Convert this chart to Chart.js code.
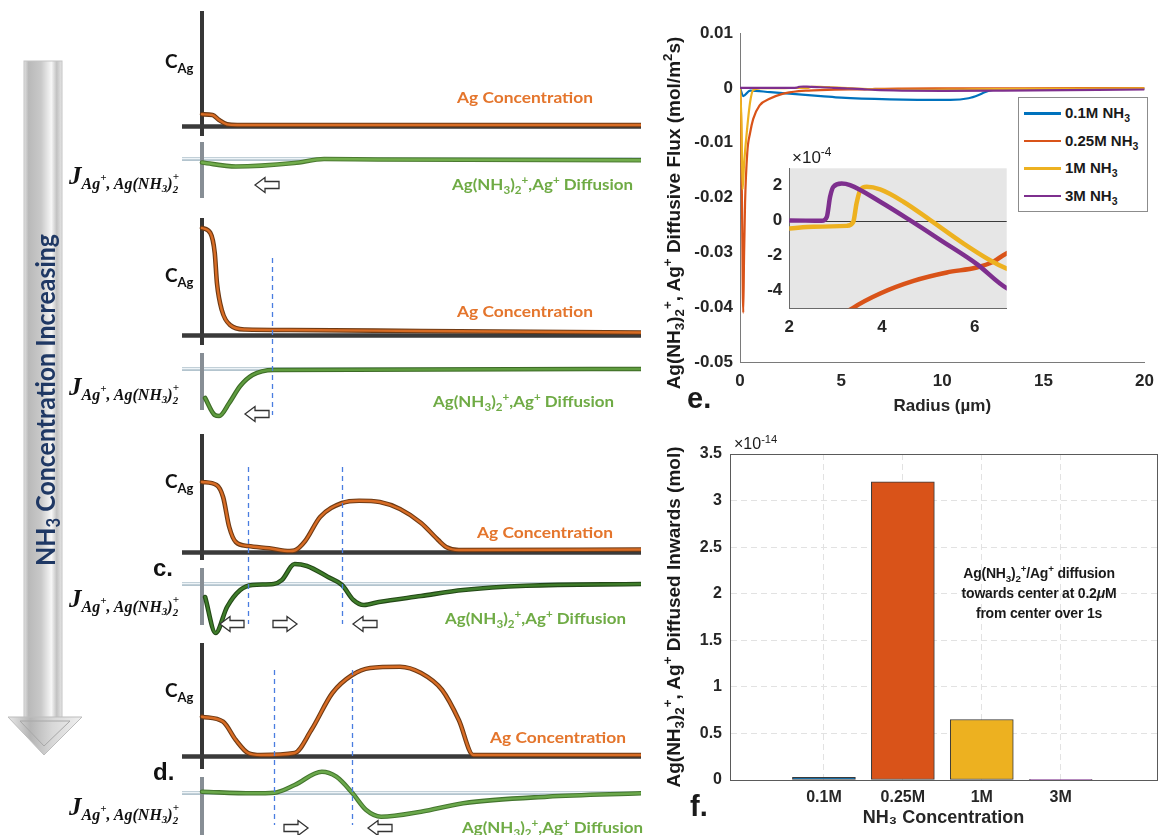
<!DOCTYPE html>
<html>
<head>
<meta charset="utf-8">
<title>Ag diffusion vs NH3</title>
<script src="https://cdn.jsdelivr.net/npm/chart.js"></script>
<style>
body{margin:0;background:#fff;}
#wrap{position:relative;width:1163px;height:835px;overflow:hidden;font-family:"Liberation Sans",Arial,sans-serif;color:#1a1a1a;}
canvas{position:absolute;}
#over{position:absolute;left:0;top:0;}
.lbl{position:absolute;white-space:nowrap;font-weight:bold;line-height:1;}
.lbl sub,.lbl sup{font-size:70%;line-height:0;}
.ytitle{transform:translate(-50%,-50%) rotate(-90deg);font-size:19px;}
</style>
</head>
<body>
<div id="wrap">
<canvas id="pa" width="459" height="200" style="left:182px;top:5px"></canvas>
<canvas id="pb" width="459" height="210" style="left:182px;top:212px"></canvas>
<canvas id="pc" width="459" height="212" style="left:182px;top:428px"></canvas>
<canvas id="pd" width="459" height="195" style="left:182px;top:640px"></canvas>

<canvas id="chartE" width="503" height="420" style="left:660px;top:0px"></canvas>
<canvas id="chartInset" width="270" height="195" style="left:745px;top:150px"></canvas>
<canvas id="chartF" width="503" height="405" style="left:660px;top:430px"></canvas>

<div class="lbl ytitle" style="left:673px;top:213px">Ag(NH<sub>3</sub>)<sub>2</sub><sup>+</sup>, Ag<sup>+</sup> Diffusive Flux (mol/m<sup>2</sup>s)</div>
<div class="lbl ytitle" style="left:673px;top:617px">Ag(NH<sub>3</sub>)<sub>2</sub><sup>+</sup>, Ag<sup>+</sup> Diffused Inwards (mol)</div>
<div class="lbl" style="left:792px;top:149px;font-size:17px;font-weight:normal">×10<sup>-4</sup></div>
<div class="lbl" style="left:734px;top:436px;font-size:16px;font-weight:normal">×10<sup>-14</sup></div>
<div class="lbl" style="left:1039px;top:563px;transform:translateX(-50%);text-align:center;font-size:14px;line-height:20px;letter-spacing:-0.2px">Ag(NH<sub>3</sub>)<sub>2</sub><sup>+</sup>/Ag<sup>+</sup> diffusion<br>towards center at 0.2<i>μ</i>M<br>from center over 1s</div>
<div id="legE" style="position:absolute;left:1018px;top:97px;width:130px;height:115px;border:1px solid #8c8c8c;background:#fff;box-sizing:border-box"></div>
<div class="lbl" style="left:687px;top:384px;font-size:29px">e.</div>
<div class="lbl" style="left:690px;top:792px;font-size:29px">f.</div>

<svg id="over" width="1163" height="835" xmlns="http://www.w3.org/2000/svg">
<defs>
<linearGradient id="shaft" x1="0" x2="1" y1="0" y2="0">
<stop offset="0" stop-color="#e2e2e2"/><stop offset="0.12" stop-color="#b9b9b9"/><stop offset="0.45" stop-color="#c9c9c9"/>
<stop offset="0.72" stop-color="#f7f7f7"/><stop offset="0.86" stop-color="#c2c2c2"/><stop offset="1" stop-color="#e6e6e6"/>
</linearGradient>
<linearGradient id="head" x1="0" x2="1" y1="0" y2="0">
<stop offset="0" stop-color="#e8e8e8"/><stop offset="0.3" stop-color="#b5b5b5"/><stop offset="0.6" stop-color="#d8d8d8"/><stop offset="1" stop-color="#f0f0f0"/>
</linearGradient>
</defs>
<rect x="24" y="61" width="38" height="660" fill="url(#shaft)" stroke="#c4c4c4" stroke-width="1"/>
<polygon points="8,717 82,717 44,755" fill="url(#head)" stroke="#bdbdbd" stroke-width="1"/>
<polygon points="20,721 70,721 44,746" fill="none" stroke="#a8a8a8" stroke-width="1"/>
<text transform="translate(55,400) rotate(-90)" text-anchor="middle" font-family="Lato" font-weight="bold" font-size="27" fill="#1f3864" textLength="332" lengthAdjust="spacingAndGlyphs">NH<tspan font-size="18" dy="5">3</tspan><tspan dy="-5"> Concentration Increasing</tspan></text>
<g id="leftText"></g>
</svg>
</div>

<script>
// ---- left schematic panels: radius (0 = centre, 100 = right edge), values in arbitrary units ----
const concA = [[0,1.07],[2.4,1.0],[3.9,0.5],[5.7,0.07],[8,0],[100,0]];
const fluxA = [[0,-0.35],[7.7,-0.75],[21,-0.4],[27.8,0],[40,-0.05],[100,-0.12]];
const concB = [[0,10.6],[1.9,10.1],[2.9,8.1],[3.4,5.1],[4.5,2.4],[6.4,0.9],[9.8,0.45],[20,0.4],[50,0.3],[100,0.15]];
const fluxB = [[0.7,-2.9],[2.9,-4.6],[3.9,-4.7],[6.2,-3.4],[8.7,-1.7],[11.5,-0.6],[16.3,-0.1],[100,0]];
const concC = [[0,6.9],[3.3,6.6],[4.8,5.4],[6.2,2.4],[7.7,0.9],[10.5,0.5],[15.3,0.27],[20,0],[21.1,0.05],[23.5,1.0],[26.9,3.4],[31.9,4.8],[35.8,5.03],[40.5,4.9],[45.1,4.2],[49.9,2.8],[53.8,1.1],[55.6,0.4],[58.5,0.1],[100,0.15]];
const fluxC = [[0.7,-1.3],[3.1,-4.9],[5.7,-2.3],[8.7,-0.6],[11.5,-0.1],[16.3,0],[18.2,0.4],[21.1,2.0],[23.9,1.8],[28.7,0.7],[31.9,-0.1],[34.5,-1.6],[36.9,-2.1],[40.3,-1.8],[49.9,-1.2],[59.5,-0.6],[73.8,-0.17],[100,0]];
const concD = [[0,3.83],[4.8,3.33],[7.7,1.5],[10.5,0.2],[13.4,0],[21.1,0.2],[24.9,2.5],[29.7,6.2],[34.2,8.0],[38.3,8.7],[45.1,8.83],[49.9,8.2],[54.7,6.5],[58.5,3.5],[61.8,0],[100,0]];
const fluxD = [[0,0.13],[11.5,-0.03],[16.5,0.03],[21.1,0.8],[27.3,2.13],[30.6,1.63],[34.2,0.03],[37.4,-1.7],[40.8,-2.37],[49.9,-1.87],[59.5,-1.03],[78.6,-0.37],[100,-0.03]];
const dashA = [], dashB = [16], dashC = [10.5, 31.9], dashD = [16.5, 34.2];

// ---- panel e: radius (um) vs diffusive flux (mol/m2s) ----
const flux01M = [[0,0],[0.16,-0.0015],[0.5,-0.0005],[1.5,-0.0008],[2.6,-0.0011],[4,-0.0015],[5,-0.0018],[7.4,-0.0021],[10.4,-0.0022],[11.3,-0.0019],[11.8,-0.0013],[12.1,-0.0008],[12.5,-0.0004],[13,-0.0003],[20,-0.0002]];
const flux025M = [[0,0],[0.05,-0.005],[0.1,-0.022],[0.16,-0.041],[0.2,-0.031],[0.25,-0.021],[0.36,-0.0118],[0.5,-0.0082],[0.65,-0.0057],[0.97,-0.0032],[1.46,-0.002],[2.1,-0.0011],[2.9,-0.0006],[3.38,-0.000497],[3.96,-0.000415],[4.68,-0.000343],[5.4,-0.000295],[6.04,-0.000267],[6.4,-0.000234],[6.68,-0.000187],[8,-0.00012],[10,-0.0001],[14,-0.00008],[20,-0.00005]];
const flux1M = [[0,0],[0.07,-0.006],[0.13,-0.0185],[0.2,-0.014],[0.32,-0.0087],[0.5,-0.0026],[0.65,-0.0004],[1.0,-0.00008],[2,-0.000044],[2.52,-0.000034],[3.24,-0.000029],[3.38,-0.000006],[3.45,0.000099],[3.53,0.000175],[3.67,0.000194],[3.96,0.000179],[4.46,0.000109],[5.04,0.000004],[5.76,-0.00013],[6.33,-0.000225],[6.68,-0.000272],[7.5,-0.00035],[9,-0.00038],[11,-0.0003],[14,-0.0002],[20,-0.0001]];
const flux3M = [[0,0],[2,0.000002],[2.7,0],[2.81,0.000023],[2.88,0.000137],[2.95,0.000194],[3.13,0.000213],[3.31,0.000204],[3.96,0.000109],[4.6,0.000004],[5.32,-0.00012],[6.04,-0.000246],[6.68,-0.000383],[8,-0.0005],[10,-0.00055],[13,-0.0005],[20,-0.0003]];
const seriesLabels = ['0.1M NH<sub>3</sub>','0.25M NH<sub>3</sub>','1M NH<sub>3</sub>','3M NH<sub>3</sub>'];
const seriesColors = ['#0072BD','#D95319','#EDB120','#7E2F8E'];
const eXTicks = [0,5,10,15,20];
const eYTicks = [0.01,0,-0.01,-0.02,-0.03,-0.04,-0.05];
const insetXTicks = [2,4,6];
const insetYTicks = [2,0,-2,-4];

// ---- panel f: amount diffused inwards (x1e-14 mol) ----
const concLabels = ['0.1M','0.25M','1M','3M'];
const diffused = [0.03, 3.2, 0.65, 0.003];
const fYTicks = [0,0.5,1,1.5,2,2.5,3,3.5];

Chart.defaults.font.family = '"Liberation Sans", Arial, sans-serif';
Chart.defaults.color = '#262626';
Chart.defaults.animation = false;

const pts = a => a.map(p => ({x: p[0], y: p[1]}));
const shift = (a, d) => a.map(p => ({x: p[0], y: p[1] + d}));
const setTicks = list => ax => { ax.ticks = list.map(v => ({value: v})); };
const boldTick = (size, pad) => ({font: {size: size, weight: 'bold'}, color: '#262626', padding: pad});

const schematicAxes = {
  id: 'schematicAxes',
  beforeDatasetsDraw(chart, args, o) {
    const ctx = chart.ctx, xs = chart.scales.x, ys = chart.scales.y;
    const x0 = xs.getPixelForValue(0);
    const seg = (x1, y1, x2, y2, c, w) => { ctx.beginPath(); ctx.moveTo(x1, y1); ctx.lineTo(x2, y2); ctx.strokeStyle = c; ctx.lineWidth = w; ctx.stroke(); };
    ctx.save();
    const yf = ys.getPixelForValue(o.fluxBase);
    seg(xs.left, yf, xs.right, yf, '#b3c4ce', 4);
    seg(xs.left, yf - 0.5, xs.right, yf - 0.5, '#eef4f8', 1.5);
    seg(x0, ys.getPixelForValue(o.fluxAxis[0]), x0, ys.getPixelForValue(o.fluxAxis[1]), '#878e95', 4);
    seg(x0, ys.getPixelForValue(o.concAxis[0]), x0, ys.getPixelForValue(o.concAxis[1]), '#363636', 4);
    const y0 = ys.getPixelForValue(0) + 1.5;
    seg(xs.left, y0, xs.right, y0, '#3a3a3a', 4.5);
    ctx.restore();
  },
  afterDatasetsDraw(chart, args, o) {
    const ctx = chart.ctx, xs = chart.scales.x, ys = chart.scales.y;
    ctx.save();
    ctx.setLineDash([5, 4]);
    ctx.strokeStyle = '#4a7de0';
    ctx.lineWidth = 1.3;
    (o.dashes || []).forEach(r => {
      const x = Math.round(xs.getPixelForValue(r)) + 0.5;
      ctx.beginPath();
      ctx.moveTo(x, ys.getPixelForValue(o.dashSpan[0]));
      ctx.lineTo(x, ys.getPixelForValue(o.dashSpan[1]));
      ctx.stroke();
    });
    ctx.restore();
  }
};

const panels = [
  {id: 'pa', conc: concA, flux: fluxA, dashes: dashA, yMin: -8, yMax: 12, fluxBase: -3.4, concAxis: [11.4, -1.1], fluxAxis: [-1.7, -7.3], dashSpan: [0, 0], green: '#72ad4c', greenEdge: '#4b7a31'},
  {id: 'pb', conc: concB, flux: fluxB, dashes: dashB, yMin: -8.8, yMax: 12.2, fluxBase: -3.5, concAxis: [11.6, -1.1], fluxAxis: [-1.9, -7.6], dashSpan: [7.6, -8.1], green: '#5f9c3f', greenEdge: '#3c6a26'},
  {id: 'pc', conc: concC, flux: fluxC, dashes: dashC, yMin: -8.9, yMax: 12.3, fluxBase: -3.3, concAxis: [11.7, -0.9], fluxAxis: [-1.7, -7.4], dashSpan: [8.4, -7.3], green: '#3f7d2a', greenEdge: '#234817'},
  {id: 'pd', conc: concD, flux: fluxD, dashes: dashD, yMin: -8.0, yMax: 11.5, fluxBase: -3.8, concAxis: [11.2, -1.4], fluxAxis: [-2.2, -8.0], dashSpan: [8.5, -7.0], green: '#6aa84b', greenEdge: '#44762e'}
];

panels.forEach(p => {
  new Chart(document.getElementById(p.id), {
    type: 'line',
    data: {datasets: [
      {data: pts(p.conc), borderColor: '#d86c24', borderWidth: 2.4},
      {data: shift(p.flux, p.fluxBase), borderColor: p.green, borderWidth: 2.4},
      {data: pts(p.conc), borderColor: '#6e3a14', borderWidth: 4.6},
      {data: shift(p.flux, p.fluxBase), borderColor: p.greenEdge, borderWidth: 4.6}
    ]},
    options: {
      responsive: false, animation: false, devicePixelRatio: 1,
      layout: {padding: 0},
      elements: {point: {radius: 0}, line: {cubicInterpolationMode: 'monotone', borderCapStyle: 'round'}},
      scales: {
        x: {type: 'linear', display: false, min: -4.56, max: 100},
        y: {display: false, min: p.yMin, max: p.yMax}
      },
      plugins: {legend: {display: false}, tooltip: {enabled: false},
        schematicAxes: {fluxBase: p.fluxBase, concAxis: p.concAxis, fluxAxis: p.fluxAxis, dashes: p.dashes, dashSpan: p.dashSpan}}
    },
    plugins: [schematicAxes]
  });
});

// ---- chart e ----
const fluxSeries = [flux01M, flux025M, flux1M, flux3M];
new Chart(document.getElementById('chartE'), {
  type: 'line',
  data: {datasets: fluxSeries.map((s, i) => ({data: pts(s), borderColor: seriesColors[i], borderWidth: 2.2, order: 3 - i}))},
  options: {
    responsive: false, animation: false, devicePixelRatio: 1,
    layout: {padding: {top: 33, right: 11, left: 0, bottom: 0}},
    elements: {point: {radius: 0}, line: {cubicInterpolationMode: 'monotone'}},
    scales: {
      x: {type: 'linear', min: 0, max: 20, afterBuildTicks: setTicks(eXTicks), afterFit: ax => { ax.height = 58; },
        grid: {display: false, drawTicks: false}, border: {color: '#7a7a7a'}, ticks: boldTick(17, 9),
        title: {display: true, text: 'Radius (µm)', font: {size: 17, weight: 'bold'}, color: '#262626', padding: {top: 0, bottom: 3}}},
      y: {min: -0.05, max: 0.01, afterBuildTicks: setTicks(eYTicks), afterFit: ax => { ax.width = 80; },
        grid: {display: false, drawTicks: false}, border: {color: '#7a7a7a'},
        ticks: Object.assign(boldTick(17, 7), {callback: v => String(+v.toFixed(2))})}
    },
    plugins: {legend: {display: false}, tooltip: {enabled: false}}
  }
});

// legend for e
const leg = document.getElementById('legE');
seriesLabels.forEach((t, i) => {
  const row = document.createElement('div');
  row.style.cssText = 'position:absolute;left:4px;top:' + (6 + i * 27.5) + 'px;height:18px;white-space:nowrap;';
  row.innerHTML = '<span style="position:absolute;left:1px;top:8px;width:37px;height:2.5px;background:' + seriesColors[i] + '"></span>' +
    '<span class="lbl" style="position:absolute;left:42px;top:1px;font-size:15px">' + t + '</span>';
  leg.appendChild(row);
});

// ---- inset ----
const insetBg = {
  id: 'insetBg',
  beforeDraw(chart) {
    const {ctx, chartArea: a} = chart;
    ctx.save(); ctx.fillStyle = '#e6e6e6'; ctx.fillRect(a.left, a.top, a.right - a.left, a.bottom - a.top); ctx.restore();
  },
  beforeDatasetsDraw(chart) {
    const {ctx, chartArea: a} = chart;
    const y = Math.round(chart.scales.y.getPixelForValue(0)) + 0.5;
    ctx.save(); ctx.strokeStyle = '#3a3a3a'; ctx.lineWidth = 1;
    ctx.beginPath(); ctx.moveTo(a.left, y); ctx.lineTo(a.right, y); ctx.stroke(); ctx.restore();
  }
};
new Chart(document.getElementById('chartInset'), {
  type: 'line',
  data: {datasets: fluxSeries.map((s, i) => ({data: s.map(p => ({x: p[0], y: p[1] * 1e4})), borderColor: seriesColors[i], borderWidth: 4.5, order: 3 - i}))},
  options: {
    responsive: false, animation: false, devicePixelRatio: 1,
    layout: {padding: {top: 18.3, right: 8.3, left: 0, bottom: 0}},
    elements: {point: {radius: 0}, line: {cubicInterpolationMode: 'monotone'}},
    scales: {
      x: {type: 'linear', min: 2, max: 6.69, afterBuildTicks: setTicks(insetXTicks), afterFit: ax => { ax.height = 36.7; },
        grid: {display: false, drawTicks: false}, border: {color: '#6a6a6a'}, ticks: boldTick(17, 9)},
      y: {min: -5, max: 3, afterBuildTicks: setTicks(insetYTicks), afterFit: ax => { ax.width = 44.3; },
        grid: {display: false, drawTicks: false}, border: {color: '#6a6a6a'}, ticks: boldTick(17, 7)}
    },
    plugins: {legend: {display: false}, tooltip: {enabled: false}}
  },
  plugins: [insetBg]
});

// ---- chart f ----
const boxFrame = {
  id: 'boxFrame',
  afterDraw(chart) {
    const {ctx, chartArea: a} = chart;
    ctx.save(); ctx.strokeStyle = '#5a5a5a'; ctx.lineWidth = 1;
    ctx.strokeRect(Math.round(a.left) + 0.5, Math.round(a.top) + 0.5, Math.round(a.right - a.left), Math.round(a.bottom - a.top));
    ctx.restore();
  }
};
new Chart(document.getElementById('chartF'), {
  type: 'bar',
  data: {datasets: [{data: diffused.map((v, i) => ({x: i + 1, y: v})), backgroundColor: seriesColors, borderColor: '#3a3a3a', borderWidth: 1, barThickness: 63, borderSkipped: false}]},
  options: {
    responsive: false, animation: false, devicePixelRatio: 1,
    layout: {padding: {top: 24, right: 6, left: 0, bottom: 0}},
    scales: {
      x: {type: 'linear', offset: false, min: -0.19, max: 5.22, afterBuildTicks: setTicks(concLabels.map((l, i) => i + 1)), afterFit: ax => { ax.height = 55; },
        grid: {offset: false, color: '#e2e2e2', drawTicks: false}, border: {color: '#5a5a5a', dash: [6, 4]},
        ticks: Object.assign(boldTick(16, 8), {callback: v => concLabels[v - 1]}),
        title: {display: true, text: 'NH₃ Concentration', font: {size: 18, weight: 'bold'}, color: '#262626', padding: {top: 0, bottom: 6}}},
      y: {min: 0, max: 3.5, afterBuildTicks: setTicks(fYTicks), afterFit: ax => { ax.width = 70; },
        grid: {color: '#e2e2e2', drawTicks: false}, border: {color: '#5a5a5a', dash: [6, 4]},
        ticks: Object.assign(boldTick(16, 8), {callback: v => String(v)})}
    },
    plugins: {legend: {display: false}, tooltip: {enabled: false}}
  },
  plugins: [boxFrame]
});

// ---- left panel labels (svg text) ----
const NS = 'http://www.w3.org/2000/svg';
const g = document.getElementById('leftText');
function svgText(attrs, html) {
  const t = document.createElementNS(NS, 'text');
  Object.keys(attrs).forEach(k => t.setAttribute(k, attrs[k]));
  t.innerHTML = html;
  g.appendChild(t);
}
const cBase = [68, 282, 488, 697];
const concTextX = [457, 457, 477, 490], concTextY = [103, 317, 538, 743];
const diffTextX = [452, 433, 445, 462], diffTextY = [190, 407, 624, 833];
const jBase = [184, 395, 607, 815];
for (let i = 0; i < 4; i++) {
  svgText({x: 165, y: cBase[i], 'font-family': 'Lato', 'font-weight': 'bold', 'font-size': 19, fill: '#111'},
    'C<tspan font-size="13" dy="5">Ag</tspan>');
  svgText({x: concTextX[i], y: concTextY[i], 'font-family': 'Lato', 'font-weight': 'bold', 'font-size': 16, fill: '#e4752c', textLength: 136, lengthAdjust: 'spacingAndGlyphs'},
    'Ag Concentration');
  svgText({x: diffTextX[i], y: diffTextY[i], 'font-family': 'Lato', 'font-weight': 'bold', 'font-size': 16, fill: '#6fab45', textLength: 181, lengthAdjust: 'spacingAndGlyphs'},
    'Ag(NH<tspan font-size="11" dy="4">3</tspan><tspan dy="-4">)</tspan><tspan font-size="11" dy="4">2</tspan><tspan font-size="11" dy="-10">+</tspan><tspan dy="6">,Ag</tspan><tspan font-size="11" dy="-6">+</tspan><tspan dy="6"> Diffusion</tspan>');
  svgText({x: 69, y: jBase[i], 'font-family': 'Liberation Serif', 'font-style': 'italic', 'font-weight': 'bold', 'font-size': 25, fill: '#111'},
    'J<tspan font-size="16" dy="5">Ag</tspan><tspan font-size="11" dy="-8">+</tspan><tspan font-size="16" dy="8">, Ag(NH</tspan><tspan font-size="11" dy="3">3</tspan><tspan font-size="16" dy="-3">)</tspan><tspan font-size="11" dy="4">2</tspan><tspan font-size="11" dx="-5.5" dy="-13">+</tspan>');
}
svgText({x: 153, y: 576, 'font-family': 'Liberation Sans', 'font-weight': 'bold', 'font-size': 24, fill: '#111'}, 'c.');
svgText({x: 153, y: 780, 'font-family': 'Liberation Sans', 'font-weight': 'bold', 'font-size': 24, fill: '#111'}, 'd.');

// hollow flux-direction arrows: [tip x, centre y, direction]
const flowArrows = [[255,185,-1],[245,414,-1],[220,624,-1],[297,624,1],[353,624,-1],[308,828,1],[368,828,-1]];
flowArrows.forEach(a => {
  const p = document.createElementNS(NS, 'path');
  p.setAttribute('d', 'M0,0 L10,-7.5 L10,-3.5 L24,-3.5 L24,3.5 L10,3.5 L10,7.5 Z');
  p.setAttribute('transform', 'translate(' + a[0] + ',' + a[1] + ') scale(' + (-a[2]) + ',1)');
  p.setAttribute('fill', '#fff'); p.setAttribute('stroke', '#333'); p.setAttribute('stroke-width', '1.3');
  g.appendChild(p);
});
</script>
</body>
</html>
